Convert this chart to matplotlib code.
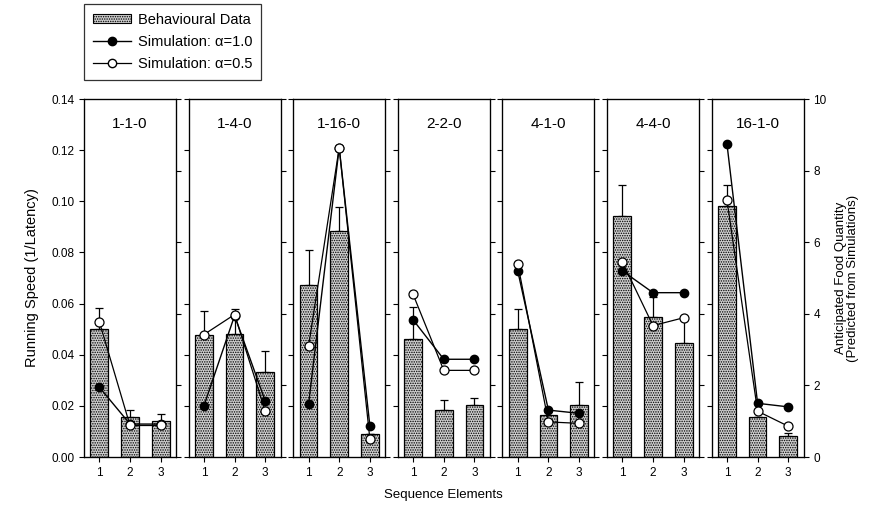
import numpy as np
import matplotlib
matplotlib.use("Agg")
import matplotlib.pyplot as plt
from matplotlib.patches import Patch
from matplotlib.lines import Line2D

plt.rcParams['font.family'] = ['Liberation Sans', 'DejaVu Sans']
plt.rcParams['hatch.linewidth'] = 0.7
plt.rcParams['hatch.color'] = '#333333'

# Sequence conditions and their elements
conditions = ['1-1-0', '1-4-0', '1-16-0', '2-2-0', '4-1-0', '4-4-0', '16-1-0']
elements = [1, 2, 3]

# Behavioural data: running speed (1/latency) and upper error
speed = [
    [0.0500, 0.0156, 0.0141],
    [0.0477, 0.0482, 0.0331],
    [0.0671, 0.0885, 0.0088],
    [0.0461, 0.0183, 0.0203],
    [0.0499, 0.0163, 0.0205],
    [0.0941, 0.0549, 0.0447],
    [0.0980, 0.0157, 0.0082],
]
speed_err = [
    [0.0082, 0.0027, 0.0026],
    [0.0094, 0.0097, 0.0083],
    [0.0137, 0.0093, 0.0000],
    [0.0125, 0.0038, 0.0028],
    [0.0080, 0.0014, 0.0087],
    [0.0122, 0.0078, 0.0093],
    [0.0085, 0.0000, 0.0010],
]

# Simulations: anticipated food quantity
sim_a10 = [
    [1.95, 0.92, 0.92],
    [1.43, 3.95, 1.56],
    [1.47, 8.64, 0.87],
    [3.83, 2.73, 2.73],
    [5.20, 1.31, 1.22],
    [5.20, 4.59, 4.59],
    [8.75, 1.50, 1.40],
]
sim_a05 = [
    [3.78, 0.88, 0.88],
    [3.42, 3.98, 1.28],
    [3.09, 8.64, 0.50],
    [4.54, 2.42, 2.42],
    [5.40, 0.98, 0.94],
    [5.45, 3.67, 3.89],
    [7.18, 1.28, 0.86],
]

left_ticks = [0.00, 0.02, 0.04, 0.06, 0.08, 0.10, 0.12, 0.14]
right_ticks = [0, 2, 4, 6, 8, 10]

fig = plt.figure(figsize=(8.75, 5.31), dpi=100)

x0 = 84 / 875
w = 92 / 875
step = 104.6 / 875
bottom = 1 - 457 / 531
height = (457 - 99) / 531

bar_face = '#cfcfcf'
bar_hatch = '.......'

for i, cond in enumerate(conditions):
    ax = fig.add_axes([x0 + i * step, bottom, w, height])
    ax.bar(elements, speed[i], width=0.58, color=bar_face, edgecolor='black',
           linewidth=0.9, hatch=bar_hatch, zorder=2)
    ax.errorbar(elements, speed[i], yerr=[[0, 0, 0], speed_err[i]], fmt='none',
                ecolor='black', elinewidth=0.9, capsize=3, capthick=0.9, zorder=1)
    ax.set_xlim(0.5, 3.5)
    ax.set_ylim(0, 0.14)
    ax.set_xticks(elements)
    ax.set_yticks(left_ticks)
    ax.tick_params(axis='both', direction='out', length=3.5, width=0.8, labelsize=8.5)
    if i > 0:
        ax.set_yticklabels([])
    else:
        ax.set_yticklabels([f"{t:.2f}" for t in left_ticks])
    for s in ax.spines.values():
        s.set_linewidth(0.9)
    ax.text(0.5, 0.93, cond, transform=ax.transAxes, ha='center', va='center',
            fontsize=11)

    ax2 = ax.twinx()
    ax2.plot(elements, sim_a10[i], color='black', lw=1.0, marker='o', ms=6,
             mfc='black', mec='black', zorder=3)
    ax2.plot(elements, sim_a05[i], color='black', lw=0.9, marker='o', ms=6.5,
             mfc='white', mec='black', mew=0.9, zorder=4)
    ax2.set_ylim(0, 10)
    ax2.set_yticks(right_ticks)
    ax2.tick_params(axis='y', direction='out', length=3.5, width=0.8, labelsize=8.5)
    if i < len(conditions) - 1:
        ax2.set_yticklabels([])

fig.text(32 / 875, 1 - 278 / 531, 'Running Speed (1/Latency)', rotation=90,
         ha='center', va='center', fontsize=10.5)
fig.text(443 / 875, 1 - 495 / 531, 'Sequence Elements', ha='center',
         va='center', fontsize=9.5)
fig.text(847 / 875, 1 - 278 / 531,
         'Anticipated Food Quantity\n(Predicted from Simulations)',
         rotation=90, ha='center', va='center', fontsize=9.5, linespacing=1.1)

handles = [
    Patch(facecolor=bar_face, edgecolor='black', hatch=bar_hatch, linewidth=0.8),
    Line2D([], [], color='black', lw=1.0, marker='o', ms=6, mfc='black'),
    Line2D([], [], color='black', lw=0.9, marker='o', ms=6, mfc='white'),
]
names = ['Behavioural Data', 'Simulation: \u03b1=1.0', 'Simulation: \u03b1=0.5']
leg = fig.legend(handles, names, loc='upper left',
                 bbox_to_anchor=(84 / 875, 1 - 4 / 531), fontsize=10.5,
                 frameon=True, fancybox=False, edgecolor='black',
                 handlelength=2.6, handleheight=0.6, borderpad=0.6,
                 labelspacing=0.55, handletextpad=0.5, borderaxespad=0)
leg.get_frame().set_linewidth(0.9)

fig.savefig('out.png', dpi=100)
